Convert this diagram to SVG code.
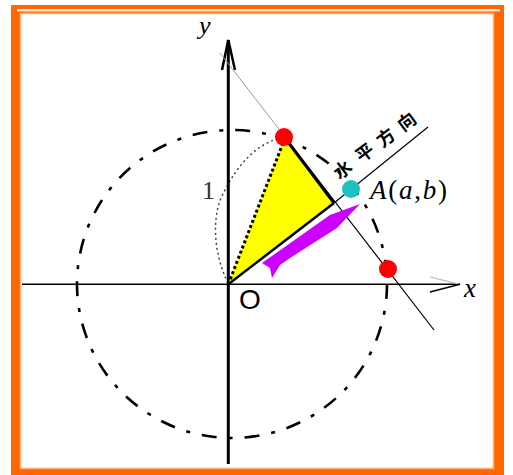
<svg xmlns="http://www.w3.org/2000/svg" width="513" height="475" viewBox="0 0 513 475">
<style>
.serif{font-family:"Liberation Serif","DejaVu Serif",serif;}
.it{font-style:italic;}
.cjk{font-family:"Noto Sans CJK SC","Noto Sans CJK JP",sans-serif;font-weight:bold;font-size:18px;fill:#000;}
.thin{stroke:#000;stroke-width:1.2;fill:none;}
</style>
<g id="frame">
<rect x="11" y="5" width="493" height="470" fill="#FF6600"/>
<rect x="17" y="9" width="483" height="2.5" fill="#FFE6D2"/>
<rect x="20.5" y="13.5" width="473" height="455" fill="#FFFFFF" stroke="#FFB07A" stroke-width="1.5"/>
</g>
<g id="circles">
<ellipse cx="232" cy="284" rx="155" ry="154" fill="none" stroke="#000" stroke-width="2.6" stroke-dasharray="15 12 4 12"/>
<path d="M228,283 C214,255 210,215 225,190 C238,165 255,145 280,138" fill="none" stroke="#444" stroke-width="1.5" stroke-dasharray="2 3"/>
</g>
<g id="axes">
<line x1="22" y1="284.3" x2="460" y2="284.3" stroke="#000" stroke-width="1.5"/>
<line x1="430" y1="277" x2="460" y2="284.3" stroke="#BBBBBB" stroke-width="1.2"/>
<line x1="430" y1="292" x2="460" y2="284.3" stroke="#000" stroke-width="1.5"/>
<line x1="228.3" y1="40" x2="228.3" y2="464" stroke="#000" stroke-width="3"/>
<polyline points="222,70 228.3,40 235,70" fill="none" stroke="#000" stroke-width="2.5"/>
</g>
<g id="connectors">
<line x1="220" y1="53" x2="285" y2="137" stroke="#999999" stroke-width="1"/>
<line class="thin" x1="285" y1="137" x2="434" y2="330"/>
<line class="thin" x1="334" y1="203" x2="428" y2="127"/>
</g>
<g id="triangle">
<polygon points="228.3,284.3 285,138 334,203" fill="#FFFF00"/>
<line x1="228.3" y1="284.3" x2="285" y2="138" stroke="#000" stroke-width="3" stroke-dasharray="3 2.5"/>
<line x1="285" y1="138" x2="334" y2="203" stroke="#000" stroke-width="3"/>
<line x1="334" y1="203" x2="228.3" y2="284.3" stroke="#000" stroke-width="2.5"/>
</g>
<g id="arrow">
<polygon points="262,263 330,215 360,204 337,228 290,258 280,265 272,278 270,268" fill="#CC00FF"/>
</g>
<g id="points">
<circle id="P" cx="284" cy="137" r="9" fill="#FF0000"/>
<circle id="R" cx="388" cy="269" r="9" fill="#FF0000"/>
<circle id="A" cx="351" cy="189" r="9" fill="#1FC0C0"/>
</g>
<g id="labels">
<text class="serif it" x="199" y="34" font-size="26" fill="#000">y</text>
<text class="serif it" x="464" y="297" font-size="27" fill="#000">x</text>
<text x="239" y="309" font-family="Liberation Sans, Arial, sans-serif" font-size="28" fill="#000">O</text>
<text class="serif" x="202" y="199" font-size="26" fill="#333">1</text>
<text class="serif" x="370" y="199" font-size="27" fill="#000" textLength="77" lengthAdjust="spacing"><tspan class="it">A</tspan>(<tspan class="it">a</tspan>,<tspan class="it">b</tspan>)</text>
<g id="dir-label">
<text class="cjk" transform="translate(343,170) rotate(-37)" x="0" y="6" text-anchor="middle">水</text>
<text class="cjk" transform="translate(365,153) rotate(-37)" x="0" y="6" text-anchor="middle">平</text>
<text class="cjk" transform="translate(386,138) rotate(-37)" x="0" y="6" text-anchor="middle">方</text>
<text class="cjk" transform="translate(407,122) rotate(-37)" x="0" y="6" text-anchor="middle">向</text>
</g>
</g>
</svg>
